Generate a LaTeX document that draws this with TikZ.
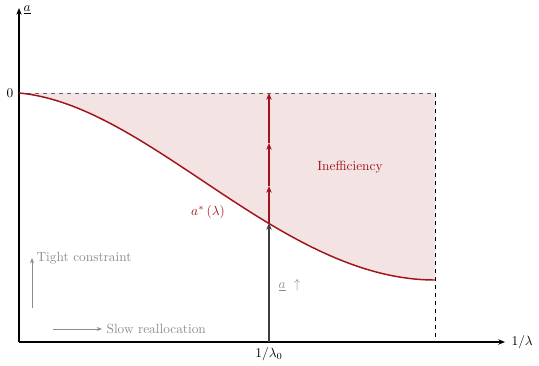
\documentclass[tikz,border=0pt]{standalone}
\usetikzlibrary{arrows.meta}
\definecolor{cred}{RGB}{160,20,28}
\definecolor{cfill}{RGB}{243,227,227}
\definecolor{cgray}{RGB}{140,140,140}
\begin{document}
\begin{tikzpicture}[x=0.75pt,y=-0.75pt,
  axis/.style={line width=0.9pt,-{Stealth[length=5pt,width=4pt]}},
  redline/.style={cred,line width=1.1pt},
  redarr/.style={cred,line width=1pt,-{Stealth[length=5pt,width=4pt]}},
  grayarr/.style={cgray,-{Stealth[length=4pt,width=3pt]}},
  graytext/.style={text=cgray,anchor=west,inner sep=1pt},
  lbl/.style={inner sep=1pt}]
\useasboundingbox (0,0) rectangle (539,365);
% coordinates
\coordinate (O) at (19,342);
\coordinate (Z) at (19,93);
\coordinate (R) at (435,93);
\coordinate (E) at (435,280);
\coordinate (RB) at (435,342);
\coordinate (X0) at (269,342);
\coordinate (P) at (269,223);
\coordinate (P1) at (269,186);
\coordinate (P2) at (269,143);
\coordinate (P3) at (269,93);
% fill
\fill[cfill] (Z) .. controls (150,105) and (280,280) .. (E) -- (R) -- cycle;
% dashed
\draw[black!60,dashed,semithick] (Z) -- (R);
\draw[dashed,semithick] (R) -- (RB);
% axes
\draw[axis] (O) -- (505,342) coordinate (XE);
\draw[axis] (O) -- (19,8) coordinate (YE);
\node[lbl,anchor=west] (xl) at (510,342) {$1/\lambda$};
\node[lbl,anchor=west] (yl) at (22,10) {$\underline{a}$};
\node[lbl,anchor=east] (zl) at (15,93) {$0$};
\node[lbl,anchor=north] (x0l) at (269,346) {$1/\lambda_0$};
% curve
\draw[redline] (Z) .. controls (150,105) and (280,280) .. (E);
% arrows
\draw[line width=1pt,black!75,-{Stealth[length=5pt,width=4pt]}] (X0) -- (P);
\draw[redarr] (P) -- (P1);
\draw[redarr] (P1) -- (P2);
\draw[redarr] (P2) -- (P3);
% labels
\node[text=cred,lbl] (al) at (208,212) {$a^{*}\left(\lambda\right)$};
\node[text=cred,lbl] (ineff) at (350,167) {Inefficiency};
\node[graytext] (up) at (277,285) {$\underline{a}\ \uparrow$};
% legend
\coordinate (t0) at (32,308);
\coordinate (t1) at (32,258);
\draw[grayarr] (t0) -- (t1);
\node[graytext] (tc) at (35,258) {Tight constraint};
\coordinate (s0) at (53,329);
\coordinate (s1) at (102,329);
\draw[grayarr] (s0) -- (s1);
\node[graytext] (sr) at (105,329) {Slow reallocation};
\end{tikzpicture}
\end{document}
